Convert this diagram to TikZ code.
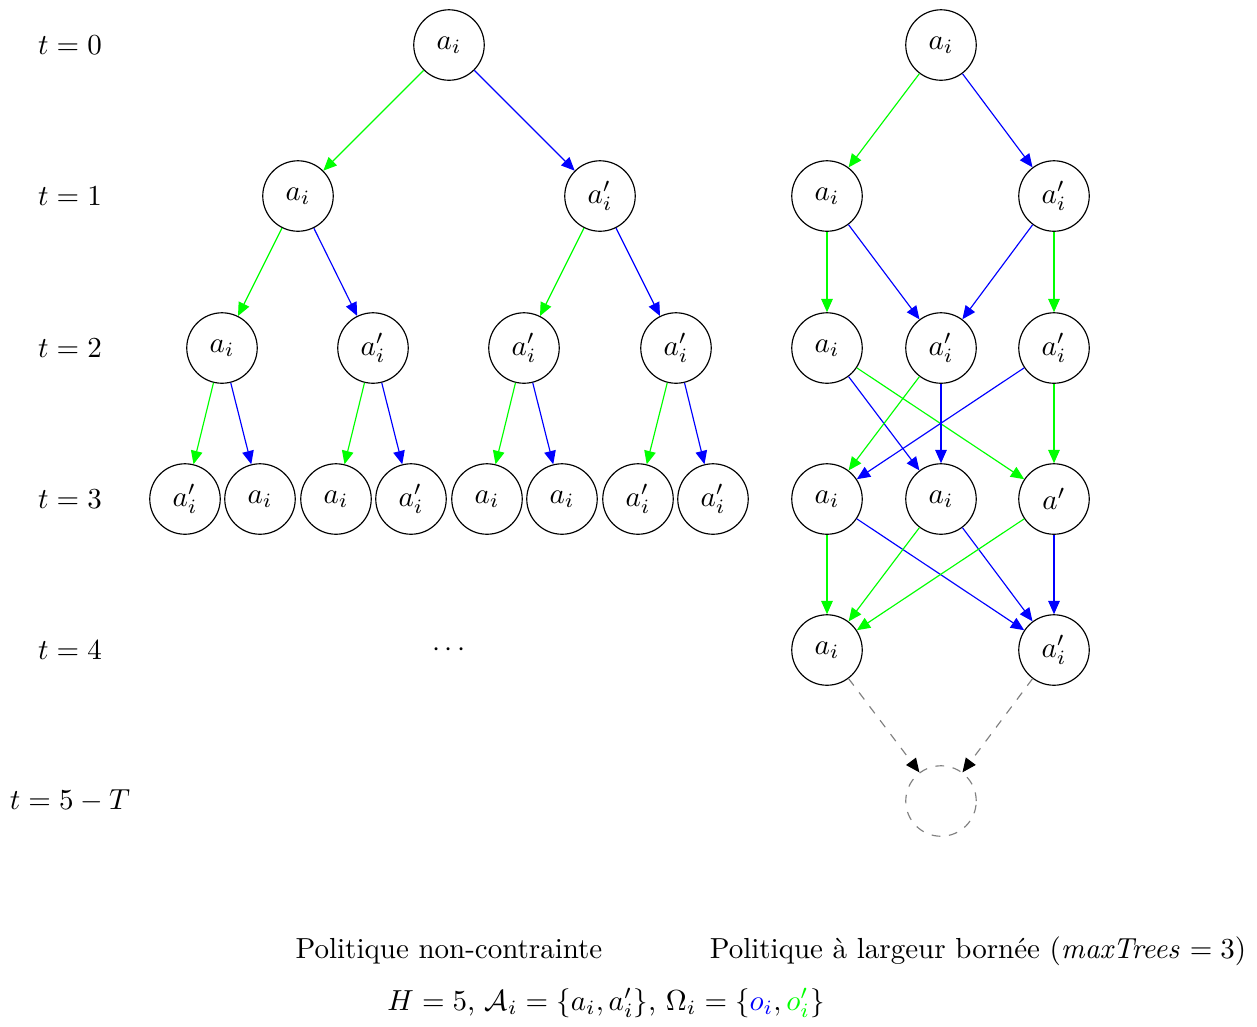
\documentclass[tikz,border=0pt]{standalone}
\usetikzlibrary{arrows.meta}
\begin{document}
\begin{tikzpicture}[x=0.3448pt,y=-0.3448pt,
  st/.style={circle,draw,minimum size=24.3pt,inner sep=0pt},
  ghost/.style={circle,draw=gray,dashed,minimum size=24.3pt,inner sep=0pt},
  tip/.style={-{Triangle[length=4.6pt,width=4pt]}},
  ge/.style={tip,draw={rgb,255:red,0;green,255;blue,0}},
  be/.style={tip,draw={rgb,255:red,0;green,0;blue,255}},
  de/.style={draw=gray,dashed,
    arrows={-{Triangle[length=4.8pt,width=4.2pt,color=black]}}},
  lbl/.style={anchor=center}]
\definecolor{gg}{RGB}{0,255,0}
\definecolor{bb}{RGB}{0,0,255}
\useasboundingbox (0,0) rectangle (1257,1026);
% time labels
\node[lbl] (t0) at (70,45) {$t=0$};
\node[lbl] (t1) at (70,196) {$t=1$};
\node[lbl] (t2) at (70,348) {$t=2$};
\node[lbl] (t3) at (70,499) {$t=3$};
\node[lbl] (t4) at (70,650) {$t=4$};
\node[lbl] (t5) at (70,801) {$t=5-T$};
% left tree
\node[st] (L) at (449,45) {$a_i$};
\node[st] (L1) at (298,196) {$a_i$};
\node[st] (L2) at (600,196) {$a'_i$};
\node[st] (L11) at (222,348) {$a_i$};
\node[st] (L12) at (373,348) {$a'_i$};
\node[st] (L21) at (524,348) {$a'_i$};
\node[st] (L22) at (676,348) {$a'_i$};
\node[st] (L111) at (185,499) {$a'_i$};
\node[st] (L112) at (260,499) {$a_i$};
\node[st] (L121) at (336,499) {$a_i$};
\node[st] (L122) at (411,499) {$a'_i$};
\node[st] (L211) at (487,499) {$a_i$};
\node[st] (L212) at (562,499) {$a_i$};
\node[st] (L221) at (638,499) {$a'_i$};
\node[st] (L222) at (713,499) {$a'_i$};
\node (dots) at (449,650) {$\cdots$};
\draw[ge] (L) -- (L1); \draw[be] (L) -- (L2);
\draw[ge] (L1) -- (L11); \draw[be] (L1) -- (L12);
\draw[ge] (L2) -- (L21); \draw[be] (L2) -- (L22);
\draw[ge] (L11) -- (L111); \draw[be] (L11) -- (L112);
\draw[ge] (L12) -- (L121); \draw[be] (L12) -- (L122);
\draw[ge] (L21) -- (L211); \draw[be] (L21) -- (L212);
\draw[ge] (L22) -- (L221); \draw[be] (L22) -- (L222);
% right graph
\node[st] (R) at (941,45) {$a_i$};
\node[st] (R1a) at (827,196) {$a_i$};
\node[st] (R1b) at (1054,196) {$a'_i$};
\node[st] (R2a) at (827,348) {$a_i$};
\node[st] (R2b) at (941,348) {$a'_i$};
\node[st] (R2c) at (1054,348) {$a'_i$};
\node[st] (R3a) at (827,499) {$a_i$};
\node[st] (R3b) at (941,499) {$a_i$};
\node[st] (R3c) at (1054,499) {$a'$};
\node[st] (R4a) at (827,650) {$a_i$};
\node[st] (R4b) at (1054,650) {$a'_i$};
\node[ghost] (R5) at (941,801) {};
\draw[ge] (R) -- (R1a); \draw[be] (R) -- (R1b);
\draw[ge] (R1a) -- (R2a); \draw[be] (R1a) -- (R2b);
\draw[be] (R1b) -- (R2b); \draw[ge] (R1b) -- (R2c);
\draw[be] (R2a) -- (R3b); \draw[ge] (R2a) -- (R3c);
\draw[ge] (R2b) -- (R3a); \draw[be] (R2b) -- (R3b);
\draw[be] (R2c) -- (R3a); \draw[ge] (R2c) -- (R3c);
\draw[ge] (R3a) -- (R4a); \draw[be] (R3a) -- (R4b);
\draw[ge] (R3b) -- (R4a); \draw[be] (R3b) -- (R4b);
\draw[ge] (R3c) -- (R4a); \draw[be] (R3c) -- (R4b);
\draw[de] (R4a) -- (R5); \draw[de] (R4b) -- (R5);
% captions
\node (c1) at (449,951) {Politique non-contrainte};
\node (c2) at (978,951) {Politique à largeur bornée ($\mathit{maxTrees}=3$)};
\node (c3) at (606,1003) {$H=5$, $\mathcal{A}_i=\{a_i,a'_i\}$, $\Omega_i=\{\textcolor{bb}{o_i},\textcolor{gg}{o'_i}\}$};
\end{tikzpicture}
\end{document}
